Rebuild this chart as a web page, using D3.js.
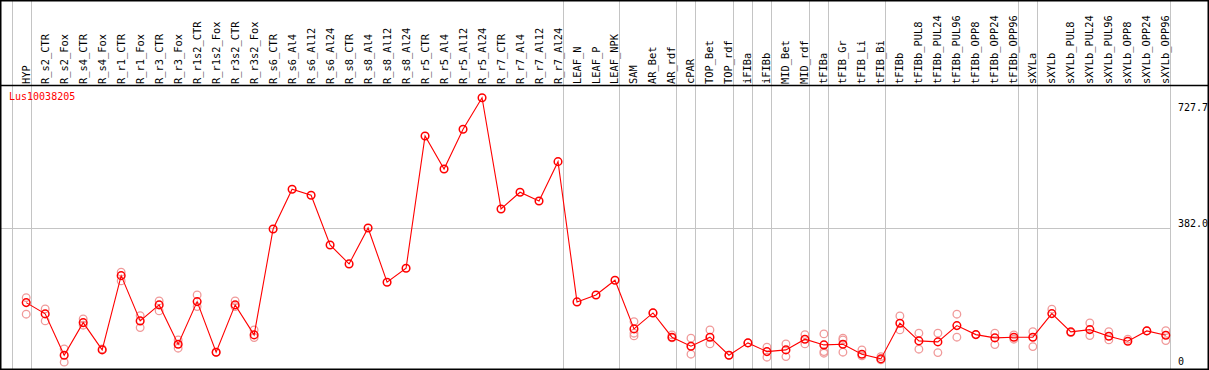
<!DOCTYPE html>
<html>
<head>
<meta charset="utf-8"/>
<script src="https://d3js.org/d3.v7.min.js"></script>
<style type="text/css">
body { margin: 0; background: #fff; }
svg { display: block; }
.lbl { font: 10.4px "DejaVu Sans Mono", monospace; fill: #000; }
.axis-lbl { font: 10px "DejaVu Sans Mono", monospace; fill: #000; }
.title { font: 10px "DejaVu Sans Mono", monospace; fill: #ff0000; }
.sep { stroke: #c4c4c4; stroke-width: 1; }
.frame { stroke: #000; stroke-width: 1.5; fill: none; }
</style>
</head>
<body>
<script>
// chart size
var width = 1209,
    height = 370;

// samples, left to right
var samples = ["HYP", "R_s2_CTR", "R_s2_Fox", "R_s4_CTR", "R_s4_Fox", "R_r1_CTR", "R_r1_Fox",
    "R_r3_CTR", "R_r3_Fox", "R_r1s2_CTR", "R_r1s2_Fox", "R_r3s2_CTR", "R_r3s2_Fox",
    "R_s6_CTR", "R_s6_Al4", "R_s6_Al12", "R_s6_Al24", "R_s8_CTR", "R_s8_Al4", "R_s8_Al12", "R_s8_Al24",
    "R_r5_CTR", "R_r5_Al4", "R_r5_Al12", "R_r5_Al24", "R_r7_CTR", "R_r7_Al4", "R_r7_Al12", "R_r7_Al24",
    "LEAF_N", "LEAF_P", "LEAF_NPK", "SAM", "AR_Bet", "AR_rdf", "cPAR", "TOP_Bet", "TOP_rdf",
    "iFIBa", "iFIBb", "MID_Bet", "MID_rdf", "tFIBa", "tFIB_Gr", "tFIB_Li", "tFIB_Bi",
    "tFIBb", "tFIBb_PUL8", "tFIBb_PUL24", "tFIBb_PUL96", "tFIBb_OPP8", "tFIBb_OPP24", "tFIBb_OPP96",
    "sXYLa", "sXYLb", "sXYLb_PUL8", "sXYLb_PUL24", "sXYLb_PUL96", "sXYLb_OPP8", "sXYLb_OPP24", "sXYLb_OPP96"];

// mean expression per sample
var means = [185.3, 155.4, 46.1, 132.3, 60.1, 256.7, 136.8, 179.2, 75.2, 187.9, 54.0, 179.2, 99.8,
    380.3, 485.3, 469.5, 337.9, 287.7, 382.9, 239.2, 276.3,
    626.4, 539.0, 644.1, 727.7, 433.2, 477.4, 454.4, 558.4,
    187.1, 205.6, 244.5, 115.7, 158.0, 93.7, 69.9, 93.7, 46.1,
    78.6, 55.6, 60.1, 88.4, 73.3, 75.2, 48.7, 36.3,
    130.8, 83.9, 81.3, 124.4, 100.6, 91.9, 93.7,
    93.7, 156.2, 107.7, 113.8, 96.4, 83.1, 110.4, 99.0];

// individual replicates (sample index, value)
var repIndex = [0, 0, 1, 1, 2, 2, 3, 3, 4, 5, 5, 6, 6, 7, 7, 8, 8, 9, 9, 10, 11, 11, 12, 12,
    32, 32, 32, 33, 34, 34, 35, 35, 36, 36, 37, 38, 39, 39, 40, 40, 41, 41,
    42, 42, 42, 43, 43, 43, 44, 44, 45, 45,
    46, 46, 47, 47, 48, 48, 49, 49, 50, 51, 51, 52, 52,
    53, 53, 54, 55, 56, 56, 57, 57, 58, 59, 60, 60];
var repValues = [198.5, 154.6, 168.6, 136.8, 62.7, 27.6, 142.1, 125.5, 62.7, 265.7, 242.7, 150.9, 119.1,
    189.8, 163.3, 86.6, 64.6, 205.6, 174.7, 54.0, 189.8, 174.7, 113.0, 92.6,
    135.0, 104.3, 97.1, 158.0, 99.8, 91.9, 91.1, 48.7, 113.0, 76.0, 46.1, 78.6, 67.2, 40.8, 76.0, 42.4, 100.6, 76.0,
    102.4, 55.6, 51.4, 91.1, 86.6, 54.0, 60.1, 44.2, 42.4, 33.6,
    150.1, 113.0, 104.3, 62.0, 104.3, 53.0, 154.6, 93.7, 100.6, 104.3, 74.1, 99.8, 88.4,
    108.5, 68.8, 167.8, 105.9, 131.5, 97.9, 108.5, 86.6, 88.4, 110.4, 111.2, 84.7];

// last sample of each group (grey separators)
var groupEnds = ["HYP", "R_r7_Al24", "LEAF_NPK", "AR_rdf", "cPAR", "TOP_rdf", "iFIBa", "iFIBb",
    "MID_rdf", "tFIBa", "tFIB_Bi", "tFIBb_OPP96", "sXYLa", "sXYLb_OPP96"];

var geneName = "Lus10038205";
var yTicks = [{ value: 727.7, label: "727.7" }, { value: 382.0, label: "382.0" }, { value: 0, label: "0" }];

var x = d3.scalePoint()
          .domain(samples)
          .range([26.2, 1165.8]);

var y = d3.scaleLinear()
          .domain([0, 727.7])
          .range([372.6, 97.7]);

var svg = d3.select("body")
            .append("svg")
            .attr("width", width)
            .attr("height", height);

// separators, leading one plus one after each group
var sepX = [x(samples[0]) - x.step() + 4.5].concat(groupEnds.map(function(d) { return x(d) + 4.5; }));
svg.selectAll(".sep")
   .data(sepX)
   .enter()
   .append("line")
   .attr("class", "sep")
   .attr("x1", function(d) { return Math.round(d) + 0.5; })
   .attr("x2", function(d) { return Math.round(d) + 0.5; })
   .attr("y1", 0)
   .attr("y2", height);

// middle gridline
svg.append("line")
   .attr("class", "sep")
   .attr("x1", 0)
   .attr("x2", Math.round(x(samples[samples.length - 1]) + 4.5) + 0.5)
   .attr("y1", Math.round(y(382.0)) + 0.5)
   .attr("y2", Math.round(y(382.0)) + 0.5);

// frame and header rule
svg.append("rect")
   .attr("class", "frame")
   .attr("x", 0.75)
   .attr("y", 0.75)
   .attr("width", width - 1.5)
   .attr("height", height - 1.5);

svg.append("line")
   .attr("x1", 0)
   .attr("x2", width)
   .attr("y1", 85.5)
   .attr("y2", 85.5)
   .style("stroke", "#000")
   .style("stroke-width", 1.5);

// rotated sample names
svg.selectAll(".lbl")
   .data(samples)
   .enter()
   .append("text")
   .attr("class", "lbl")
   .attr("transform", function(d) { return "translate(" + (x(d) + 3.5) + ",84) rotate(-90)"; })
   .text(function(d) { return d; });

svg.append("text")
   .attr("class", "title")
   .attr("x", 9)
   .attr("y", 100)
   .text(geneName);

// right axis labels
var labelY = [110.5, 226.5, 365];
svg.selectAll(".axis-lbl")
   .data(yTicks)
   .enter()
   .append("text")
   .attr("class", "axis-lbl")
   .attr("x", 1178)
   .attr("y", function(d, i) { return labelY[i]; })
   .text(function(d) { return d.label; });

// replicates
svg.append("g")
   .selectAll("circle")
   .data(repValues)
   .enter()
   .append("circle")
   .attr("cx", function(d, i) { return x(samples[repIndex[i]]); })
   .attr("cy", function(d) { return y(d); })
   .attr("r", 3.8)
   .style("fill", "none")
   .style("stroke", "#f09a9a")
   .style("stroke-width", 1.3);

// mean line
var line = d3.line()
             .x(function(d, i) { return x(samples[i]); })
             .y(function(d) { return y(d); });

svg.append("path")
   .datum(means)
   .attr("d", line)
   .style("fill", "none")
   .style("stroke", "#ff0000")
   .style("stroke-width", 1.1);

svg.append("g")
   .selectAll("circle")
   .data(means)
   .enter()
   .append("circle")
   .attr("cx", function(d, i) { return x(samples[i]); })
   .attr("cy", function(d) { return y(d); })
   .attr("r", 3.8)
   .style("fill", "none")
   .style("stroke", "#ff0000")
   .style("stroke-width", 1.5);
</script>
</body>
</html>
